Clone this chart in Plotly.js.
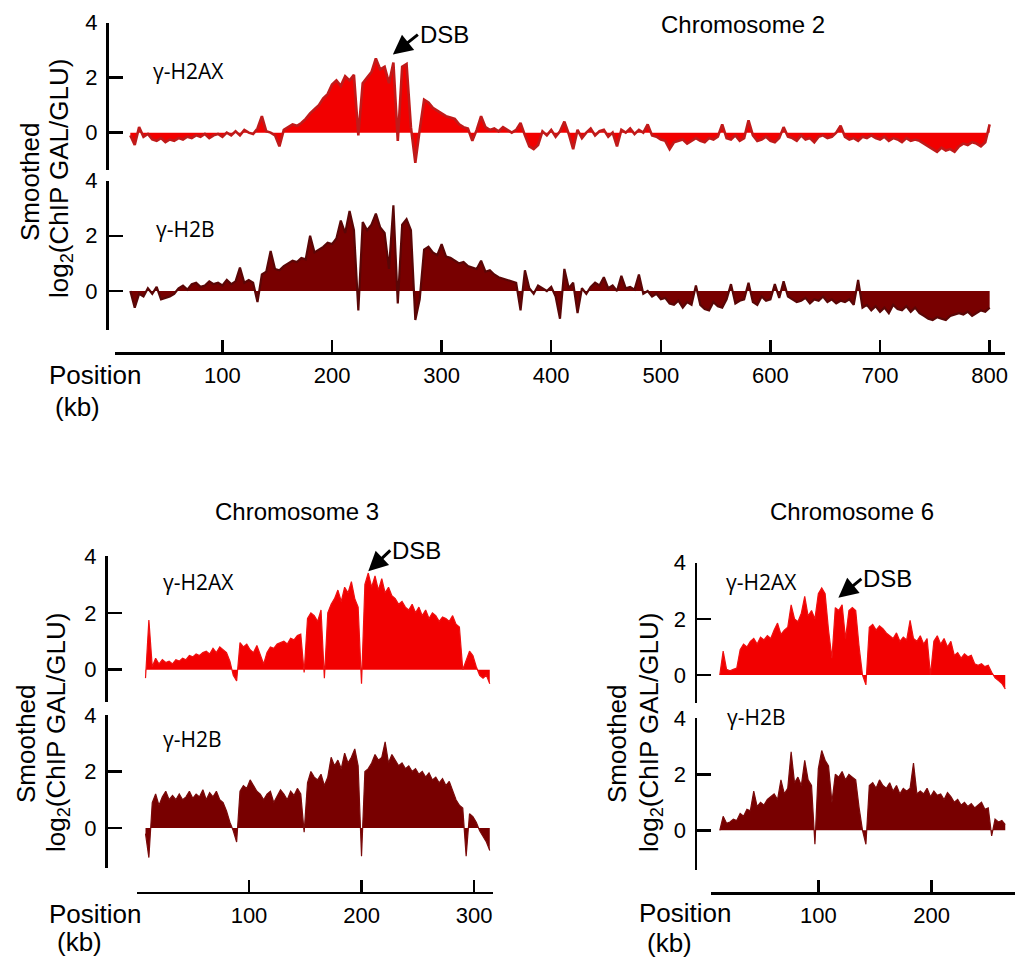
<!DOCTYPE html>
<html>
<head>
<meta charset="utf-8">
<script src="https://cdn.plot.ly/plotly-3.0.1.min.js"></script>
<style>html,body{margin:0;padding:0;background:#fff;}#chart{width:1019px;height:963px;}</style>
</head>
<body>
<div id="chart"></div>
<script>
// ---------------- DATA ----------------
// Chromosome 2, positions start at 16 kb, step 4 kb
var chr2Start = 16, chr2Step = 4;
var chr2H2AX = [-0.1,-0.45,0.2,-0.15,-0.05,-0.25,-0.3,-0.2,-0.35,-0.25,
 -0.3,-0.2,-0.25,-0.15,-0.2,-0.1,-0.15,-0.05,-0.2,-0.1,
 -0.05,-0.15,0.0,-0.1,0.05,-0.1,0.1,0.0,-0.05,0.15,
 0.6,0.05,0.0,-0.1,-0.5,0.1,0.2,0.3,0.25,0.35,
 0.5,0.7,0.85,1.0,1.25,1.4,1.75,1.9,1.7,2.05,
 1.9,2.1,-0.1,1.8,2.0,2.2,2.7,2.3,2.4,1.8,
 2.55,-0.3,2.4,2.5,0.2,-1.1,0.1,1.2,1.1,0.9,
 0.8,0.7,0.6,0.55,0.5,0.3,0.2,0.15,-0.3,0.1,
 0.6,0.2,0.1,0.15,0.05,0.2,0.1,0.0,0.1,0.35,
 -0.1,-0.5,-0.6,-0.45,0.05,-0.1,0.1,-0.15,0.05,0.4,
 -0.05,-0.6,0.1,-0.2,0.0,0.15,-0.1,0.05,0.1,-0.15,
 0.0,-0.5,0.1,0.0,0.15,-0.05,0.1,0.0,0.3,-0.1,
 -0.15,-0.25,-0.3,-0.6,-0.35,-0.3,-0.25,-0.4,-0.3,-0.2,
 -0.3,-0.35,-0.2,-0.25,-0.15,0.3,-0.2,-0.25,-0.1,-0.3,
 -0.2,0.45,-0.1,-0.3,-0.25,-0.15,-0.3,-0.35,-0.2,0.2,
 -0.15,-0.2,-0.3,-0.1,-0.25,-0.2,-0.35,-0.15,-0.1,-0.2,
 -0.15,0.0,0.25,-0.15,-0.25,-0.2,-0.3,-0.15,-0.2,-0.1,
 -0.2,-0.25,-0.15,-0.3,-0.2,-0.25,-0.35,-0.2,-0.3,-0.25,
 -0.3,-0.4,-0.5,-0.6,-0.7,-0.55,-0.65,-0.6,-0.7,-0.5,
 -0.4,-0.45,-0.35,-0.4,-0.5,-0.35,0.3];
var chr2H2B = [0.0,-0.6,-0.1,-0.2,0.1,-0.1,0.15,-0.3,-0.25,-0.2,
 -0.1,0.1,0.2,0.05,0.25,0.3,0.15,0.2,0.35,0.25,
 0.3,0.2,0.4,0.25,0.35,0.85,0.3,0.4,0.3,-0.4,
 0.6,0.7,1.45,0.8,0.75,0.9,1.0,1.1,1.05,1.2,
 1.15,2.0,1.4,1.5,1.6,1.75,1.7,1.9,2.55,2.1,
 2.9,2.2,-0.7,2.5,2.2,2.4,2.8,2.3,2.1,0.8,
 3.1,-0.45,2.4,2.6,2.2,-1.05,-0.3,1.5,1.6,1.4,
 1.3,1.7,1.25,1.2,1.1,1.0,1.05,0.9,0.85,0.8,
 1.1,0.7,0.75,0.6,0.5,0.45,0.4,0.35,0.3,-0.7,
 0.75,0.1,-0.1,0.2,0.1,0.0,0.15,-0.2,-1.0,0.8,
 0.1,0.3,-0.8,0.1,-0.1,0.15,0.3,0.2,0.5,0.1,
 0.2,0.0,0.55,0.1,0.15,0.05,0.6,-0.1,0.0,-0.2,
 -0.1,-0.3,-0.25,-0.45,-0.5,-0.35,-0.6,-0.4,-0.5,0.2,
 -0.5,-0.65,-0.7,-0.4,-0.55,-0.6,-0.3,0.25,-0.45,-0.35,
 -0.3,0.3,-0.4,-0.5,-0.2,-0.35,-0.3,0.25,-0.25,0.35,
 -0.2,-0.3,-0.4,-0.35,-0.25,-0.45,-0.3,-0.35,-0.2,-0.4,
 -0.3,-0.45,-0.35,-0.4,-0.3,-0.5,0.4,-0.6,-0.5,-0.7,
 -0.55,-0.75,-0.6,-0.8,-0.5,-0.65,-0.7,-0.55,-0.75,-0.6,
 -0.8,-0.9,-1.0,-1.05,-0.95,-1.0,-1.05,-0.9,-0.85,-0.8,
 -0.85,-0.75,-0.9,-0.8,-0.7,-0.75,-0.6];

// Chromosome 3, positions start at 8 kb, step 3 kb
var chr3Start = 8, chr3Step = 3;
var chr3H2AX = [-0.3,1.75,0.1,0.4,0.2,0.35,0.25,0.3,0.2,0.35,
 0.3,0.4,0.35,0.5,0.45,0.55,0.5,0.6,0.65,0.55,
 0.75,0.6,0.8,0.7,0.6,0.3,-0.2,-0.4,0.95,0.8,
 0.9,0.7,0.6,0.85,0.55,0.2,0.6,0.8,0.75,0.9,
 0.95,1.0,0.9,1.1,1.05,1.2,1.25,-0.1,1.8,2.0,
 1.9,1.7,2.1,-0.3,2.0,2.3,2.5,2.8,2.4,2.9,
 2.7,3.1,2.5,2.2,-0.5,3.0,3.4,2.9,3.3,2.8,
 3.2,2.7,2.9,2.6,2.5,2.3,2.4,2.2,2.1,2.3,
 2.0,2.2,1.9,2.1,1.8,2.0,1.9,1.7,1.85,1.8,
 1.7,1.9,1.6,1.5,0.0,0.35,0.65,0.5,0.1,-0.2,
 -0.3,-0.2,-0.5];
var chr3H2B = [-0.2,-1.05,0.9,1.2,0.8,1.1,1.3,1.0,1.15,1.0,
 1.2,1.0,1.1,1.3,1.05,1.2,1.1,1.35,1.0,1.25,
 1.1,1.3,1.0,0.9,0.6,0.2,-0.1,-0.5,1.3,1.5,
 1.4,1.7,1.5,1.3,1.2,1.0,1.2,1.3,0.9,1.1,
 1.35,1.2,1.0,1.3,1.15,1.4,1.2,-0.15,1.6,2.0,
 1.8,1.7,1.9,1.5,1.8,2.5,2.2,2.4,2.1,2.65,
 2.3,2.5,2.8,2.2,-1.0,2.0,2.1,2.3,2.6,2.4,
 2.5,3.05,2.3,2.6,2.4,2.2,2.3,2.1,2.2,2.0,
 2.1,1.9,2.0,1.8,1.95,1.7,1.8,1.6,1.75,1.5,
 1.65,1.3,1.0,0.8,0.7,-1.0,0.5,0.4,0.2,-0.1,
 -0.3,-0.5,-0.8];

// Chromosome 6, positions start at 13 kb, step 3 kb
var chr6Start = 13, chr6Step = 3;
var chr6H2AX = [0.0,0.85,0.2,0.15,0.2,0.25,0.9,1.1,1.0,1.2,
 1.3,1.1,1.35,1.25,1.4,1.3,1.6,1.85,1.45,1.6,
 1.7,2.5,2.0,1.9,2.2,2.8,2.1,2.3,2.0,2.9,
 3.1,2.9,1.6,0.6,2.4,2.3,2.5,1.3,2.3,2.4,
 2.3,1.0,0.0,-0.35,1.7,1.8,1.6,1.75,1.65,1.5,
 1.4,1.3,1.5,1.2,1.35,1.25,1.95,1.3,1.2,1.4,
 1.1,1.3,0.0,1.2,1.4,1.1,1.3,1.0,1.2,0.7,
 0.8,0.6,0.75,0.65,0.7,0.4,0.35,0.4,0.3,0.35,
 0.1,-0.1,-0.2,-0.3,-0.5];
var chr6H2B = [0.0,0.5,0.25,0.3,0.4,0.35,0.6,0.5,0.75,0.7,
 1.4,0.85,1.0,0.9,1.1,1.2,1.3,1.1,1.8,1.3,
 1.5,2.8,1.7,1.9,1.6,2.5,1.8,1.6,-0.5,2.2,
 2.85,2.5,2.3,1.0,2.0,1.9,2.1,1.8,2.0,1.9,
 1.8,0.8,0.0,-0.5,1.6,1.7,1.5,1.8,1.6,1.5,
 1.7,1.4,1.6,1.3,1.5,1.4,1.5,2.4,1.3,1.4,
 1.3,1.5,1.2,1.4,1.25,1.3,1.1,1.35,1.2,1.0,
 1.1,0.9,1.0,0.85,0.95,0.8,0.9,1.0,0.75,0.8,
 -0.2,0.4,0.3,0.35,0.2];

var chr2Ticks = [100,200,300,400,500,600,700,800];
var chr3Ticks = [100,200,300];
var chr6Ticks = [100,200];
var yTicks = [0,2,4];

// ---------------- STYLE ----------------
var W = 1019, H = 963;
function fx(p){ return p / W; }
function fy(p){ return 1 - p / H; }
var FONT = 'Liberation Sans, Arial, Helvetica, sans-serif';
var LABFONT = 'Open Sans, Liberation Sans, sans-serif';
var RED = '#f20000', REDLINE = '#c01a1a';
var DARK = '#780000', DARKLINE = '#5a0606';

function trace(vals, x0, dx, xa, ya, fill, line, lw){
  return {type:'scatter', mode:'lines', y: vals, x0: x0, dx: dx,
    xaxis: xa, yaxis: ya, fill:'tozeroy', fillcolor: fill,
    line:{color: line, width: lw}, hoverinfo:'skip'};
}

var data = [
  trace(chr2H2AX, chr2Start, chr2Step, 'x', 'y', RED, REDLINE, 2.6),
  trace(chr2H2B, chr2Start, chr2Step, 'x', 'y2', DARK, DARKLINE, 2.2),
  trace(chr3H2AX, chr3Start, chr3Step, 'x2', 'y3', RED, '#ee1010', 1.2),
  trace(chr3H2B, chr3Start, chr3Step, 'x2', 'y4', DARK, '#7a0a0a', 1.2),
  trace(chr6H2AX, chr6Start, chr6Step, 'x3', 'y5', RED, '#ee1010', 1.2),
  trace(chr6H2B, chr6Start, chr6Step, 'x3', 'y6', DARK, '#7a0a0a', 1.2)
];

function xax(d0, d1, r, pos, ticks){
  return {domain:[fx(d0), fx(d1)], range:r, anchor:'free', position: fy(pos),
    showgrid:false, zeroline:false, showline:true, linecolor:'#000', linewidth:2.5,
    ticks:'inside', ticklen:12, tickwidth:2.5, tickcolor:'#000',
    tickmode:'array', tickvals: ticks, ticktext: ticks.map(String),
    tickfont:{family:FONT, size:22, color:'#000'}, ticklabelstandoff: 2, fixedrange:true};
}
function yax(top, bottom, r, pos){
  return {domain:[fy(bottom), fy(top)], range:r, anchor:'free', position: fx(pos),
    showgrid:false, zeroline:false, showline:true, linecolor:'#000', linewidth:2.5,
    ticks:'inside', ticklen:14, tickwidth:2.5, tickcolor:'#000',
    tickmode:'array', tickvals: yTicks, ticktext: yTicks.map(String),
    tickfont:{family:FONT, size:22, color:'#000'}, ticklabelstandoff: 4, fixedrange:true};
}

function txt(s, x, y, size, xanchor, fam){
  return {text:s, xref:'paper', yref:'paper', x: fx(x), y: fy(y), showarrow:false,
    xanchor: xanchor || 'center', yanchor:'middle',
    font:{family: fam || FONT, size:size, color:'#000'}};
}
function vtxt(s, x, y, size){
  return {text:s, xref:'paper', yref:'paper', x: fx(x), y: fy(y), showarrow:false,
    textangle:-90, xanchor:'center', yanchor:'middle',
    font:{family:FONT, size:size, color:'#000'}};
}
function dsb(xa, ya, x, y, ax, ay){
  return {text:'DSB', xref:xa, yref:ya, x:x, y:y, ax:ax, ay:ay, showarrow:true,
    arrowhead:2, arrowsize:1.3, arrowwidth:3, arrowcolor:'#000', standoff:0,
    xanchor:'left', yanchor:'middle', font:{family:FONT, size:24, color:'#000'}};
}
var YT = 'log<sub>2</sub>(ChIP GAL/GLU)';

var layout = {
  width: W, height: H, margin:{l:0, r:0, t:0, b:0},
  paper_bgcolor:'#fff', plot_bgcolor:'rgba(0,0,0,0)', showlegend:false,
  xaxis:  xax(115, 1005, [2, 814], 353, chr2Ticks),
  xaxis2: xax(137, 492.7, [0.44, 316.6], 892.7, chr3Ticks),
  xaxis3: xax(710.7, 1015, [5, 273.6], 893, chr6Ticks),
  yaxis:  yax(22.7, 170, [-1.36, 4], 107),
  yaxis2: yax(180.5, 330, [-1.41, 4], 107),
  yaxis3: yax(556, 702.3, [-1.15, 4], 106),
  yaxis4: yax(715, 868, [-1.42, 4], 106),
  yaxis5: yax(562.7, 703.1, [-1.0, 4], 695.5),
  yaxis6: yax(718.3, 870.1, [-1.42, 4], 695.5),
  annotations: [
    txt('Chromosome 2', 743, 24, 24),
    txt('Chromosome 3', 297, 511, 24),
    txt('Chromosome 6', 852, 511, 24),
    txt('Position', 47, 375, 26, 'left'),
    txt('(kb)', 53, 407, 26, 'left'),
    txt('Position', 47, 914, 26, 'left'),
    txt('(kb)', 55, 942, 26, 'left'),
    txt('Position', 637, 913, 26, 'left'),
    txt('(kb)', 645, 943, 26, 'left'),
    vtxt('Smoothed', 30, 182, 26),
    vtxt(YT, 60, 179, 26),
    vtxt('Smoothed', 26, 744, 26),
    vtxt(YT, 57, 733, 26),
    vtxt('Smoothed', 617, 744, 26),
    vtxt(YT, 650, 733, 26),
    txt('\u03b3-H2AX', 151, 71, 21, 'left', LABFONT),
    txt('\u03b3-H2B', 154, 229, 21, 'left', LABFONT),
    txt('\u03b3-H2AX', 161, 582, 21, 'left', LABFONT),
    txt('\u03b3-H2B', 161, 739, 21, 'left', LABFONT),
    txt('\u03b3-H2AX', 724, 582, 21, 'left', LABFONT),
    txt('\u03b3-H2B', 725, 717, 21, 'left', LABFONT),
    dsb('x', 'y', 255.5, 2.84, 25, -20),
    dsb('x2', 'y3', 206, 3.46, 22, -21),
    dsb('x3', 'y5', 117.7, 2.75, 23, -19)
  ]
};

Plotly.newPlot('chart', data, layout, {staticPlot:true, displayModeBar:false});
</script>
</body>
</html>
